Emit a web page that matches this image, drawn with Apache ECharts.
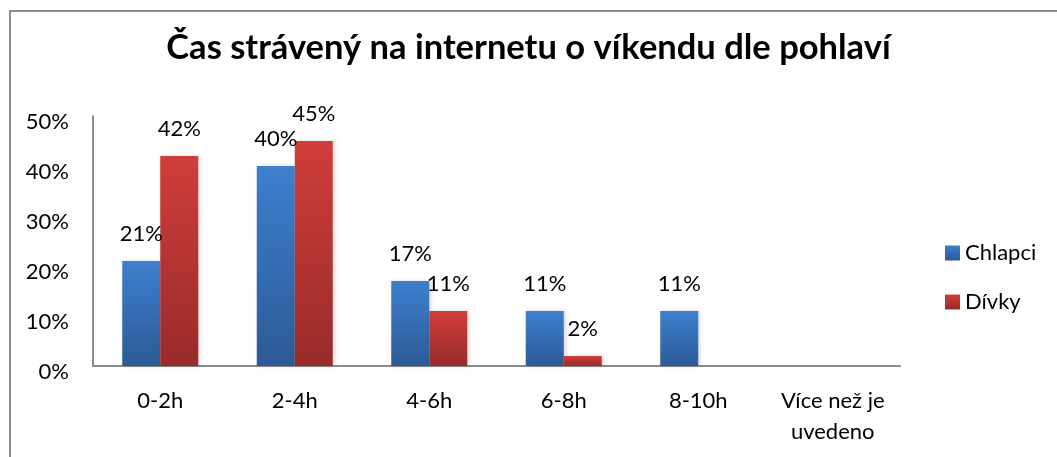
<!DOCTYPE html>
<html>
<head>
<meta charset="utf-8">
<script src="https://cdn.jsdelivr.net/npm/echarts@6/dist/echarts.min.js"></script>
<style>
  html, body { margin: 0; padding: 0; background: #fff; }
  #chart { width: 1057px; height: 457px; }
</style>
</head>
<body>
<div id="chart"></div>
<script>
// data
var categories = ['0-2h', '2-4h', '4-6h', '6-8h', '8-10h', 'Více než je\nuvedeno'];
var chlapci = [21, 40, 17, 11, 11, 0];
var divky = [42, 45, 11, 2, 0, 0];
var yTicks = [0, 10, 20, 30, 40, 50];

var font = 'Lato, "Open Sans", sans-serif';

function grad(top, bottom) {
  return new echarts.graphic.LinearGradient(0, 0, 0, 1, [
    { offset: 0, color: top },
    { offset: 1, color: bottom }
  ]);
}

var labelOpt = {
  show: true,
  position: 'top',
  distance: 16,
  fontFamily: font,
  fontSize: 22,
  color: '#000',
  formatter: function (p) { return p.value ? p.value + '%' : ''; }
};

var myChart = echarts.init(document.getElementById('chart'));
myChart.setOption({
  animation: false,
  title: {
    text: 'Čas strávený na internetu o víkendu dle pohlaví',
    left: 'center',
    top: 25,
    textStyle: { fontFamily: font, fontSize: 34.5, fontWeight: 'bold', color: '#000' }
  },
  graphic: [{
    type: 'rect',
    shape: { x: 10, y: 11, width: 1200, height: 600 },
    style: { fill: 'none', stroke: '#8c8c8c', lineWidth: 2 },
    silent: true
  }],
  legend: {
    orient: 'vertical',
    left: 940,
    top: 237,
    itemWidth: 15,
    itemHeight: 15,
    itemGap: 27,
    icon: 'rect',
    textStyle: { fontFamily: font, fontSize: 22, color: '#000' },
    data: ['Chlapci', 'Dívky']
  },
  grid: { left: 93, right: 157, top: 116, bottom: 91, containLabel: false },
  xAxis: {
    type: 'category',
    data: categories,
    axisLine: { lineStyle: { color: '#8c8c8c', width: 2 } },
    axisTick: { show: false },
    axisLabel: { fontFamily: font, fontSize: 22, color: '#000', margin: 19, lineHeight: 31, interval: 0 }
  },
  yAxis: {
    type: 'value',
    min: yTicks[0],
    max: yTicks[yTicks.length - 1],
    interval: 10,
    splitLine: { show: false },
    axisLine: { show: true, lineStyle: { color: '#8c8c8c', width: 2 } },
    axisTick: { show: false },
    axisLabel: {
      margin: 24,
      formatter: '{t|{value}%}',
      rich: { t: { fontFamily: font, fontSize: 22, color: '#000', padding: [12, 0, 0, 0] } }
    }
  },
  series: [
    {
      name: 'Chlapci',
      type: 'bar',
      data: chlapci,
      barWidth: 38,
      barGap: '0%',
      itemStyle: { color: grad('#3e7fcf', '#2c5a96'), shadowColor: 'rgba(0,0,0,0.15)', shadowBlur: 4, shadowOffsetX: 2 },
      label: labelOpt
    },
    {
      name: 'Dívky',
      type: 'bar',
      data: divky,
      barWidth: 38,
      barGap: '0%',
      itemStyle: { color: grad('#d03e3b', '#982b29'), shadowColor: 'rgba(0,0,0,0.15)', shadowBlur: 4, shadowOffsetX: 2 },
      label: labelOpt
    }
  ]
});
</script>
</body>
</html>
